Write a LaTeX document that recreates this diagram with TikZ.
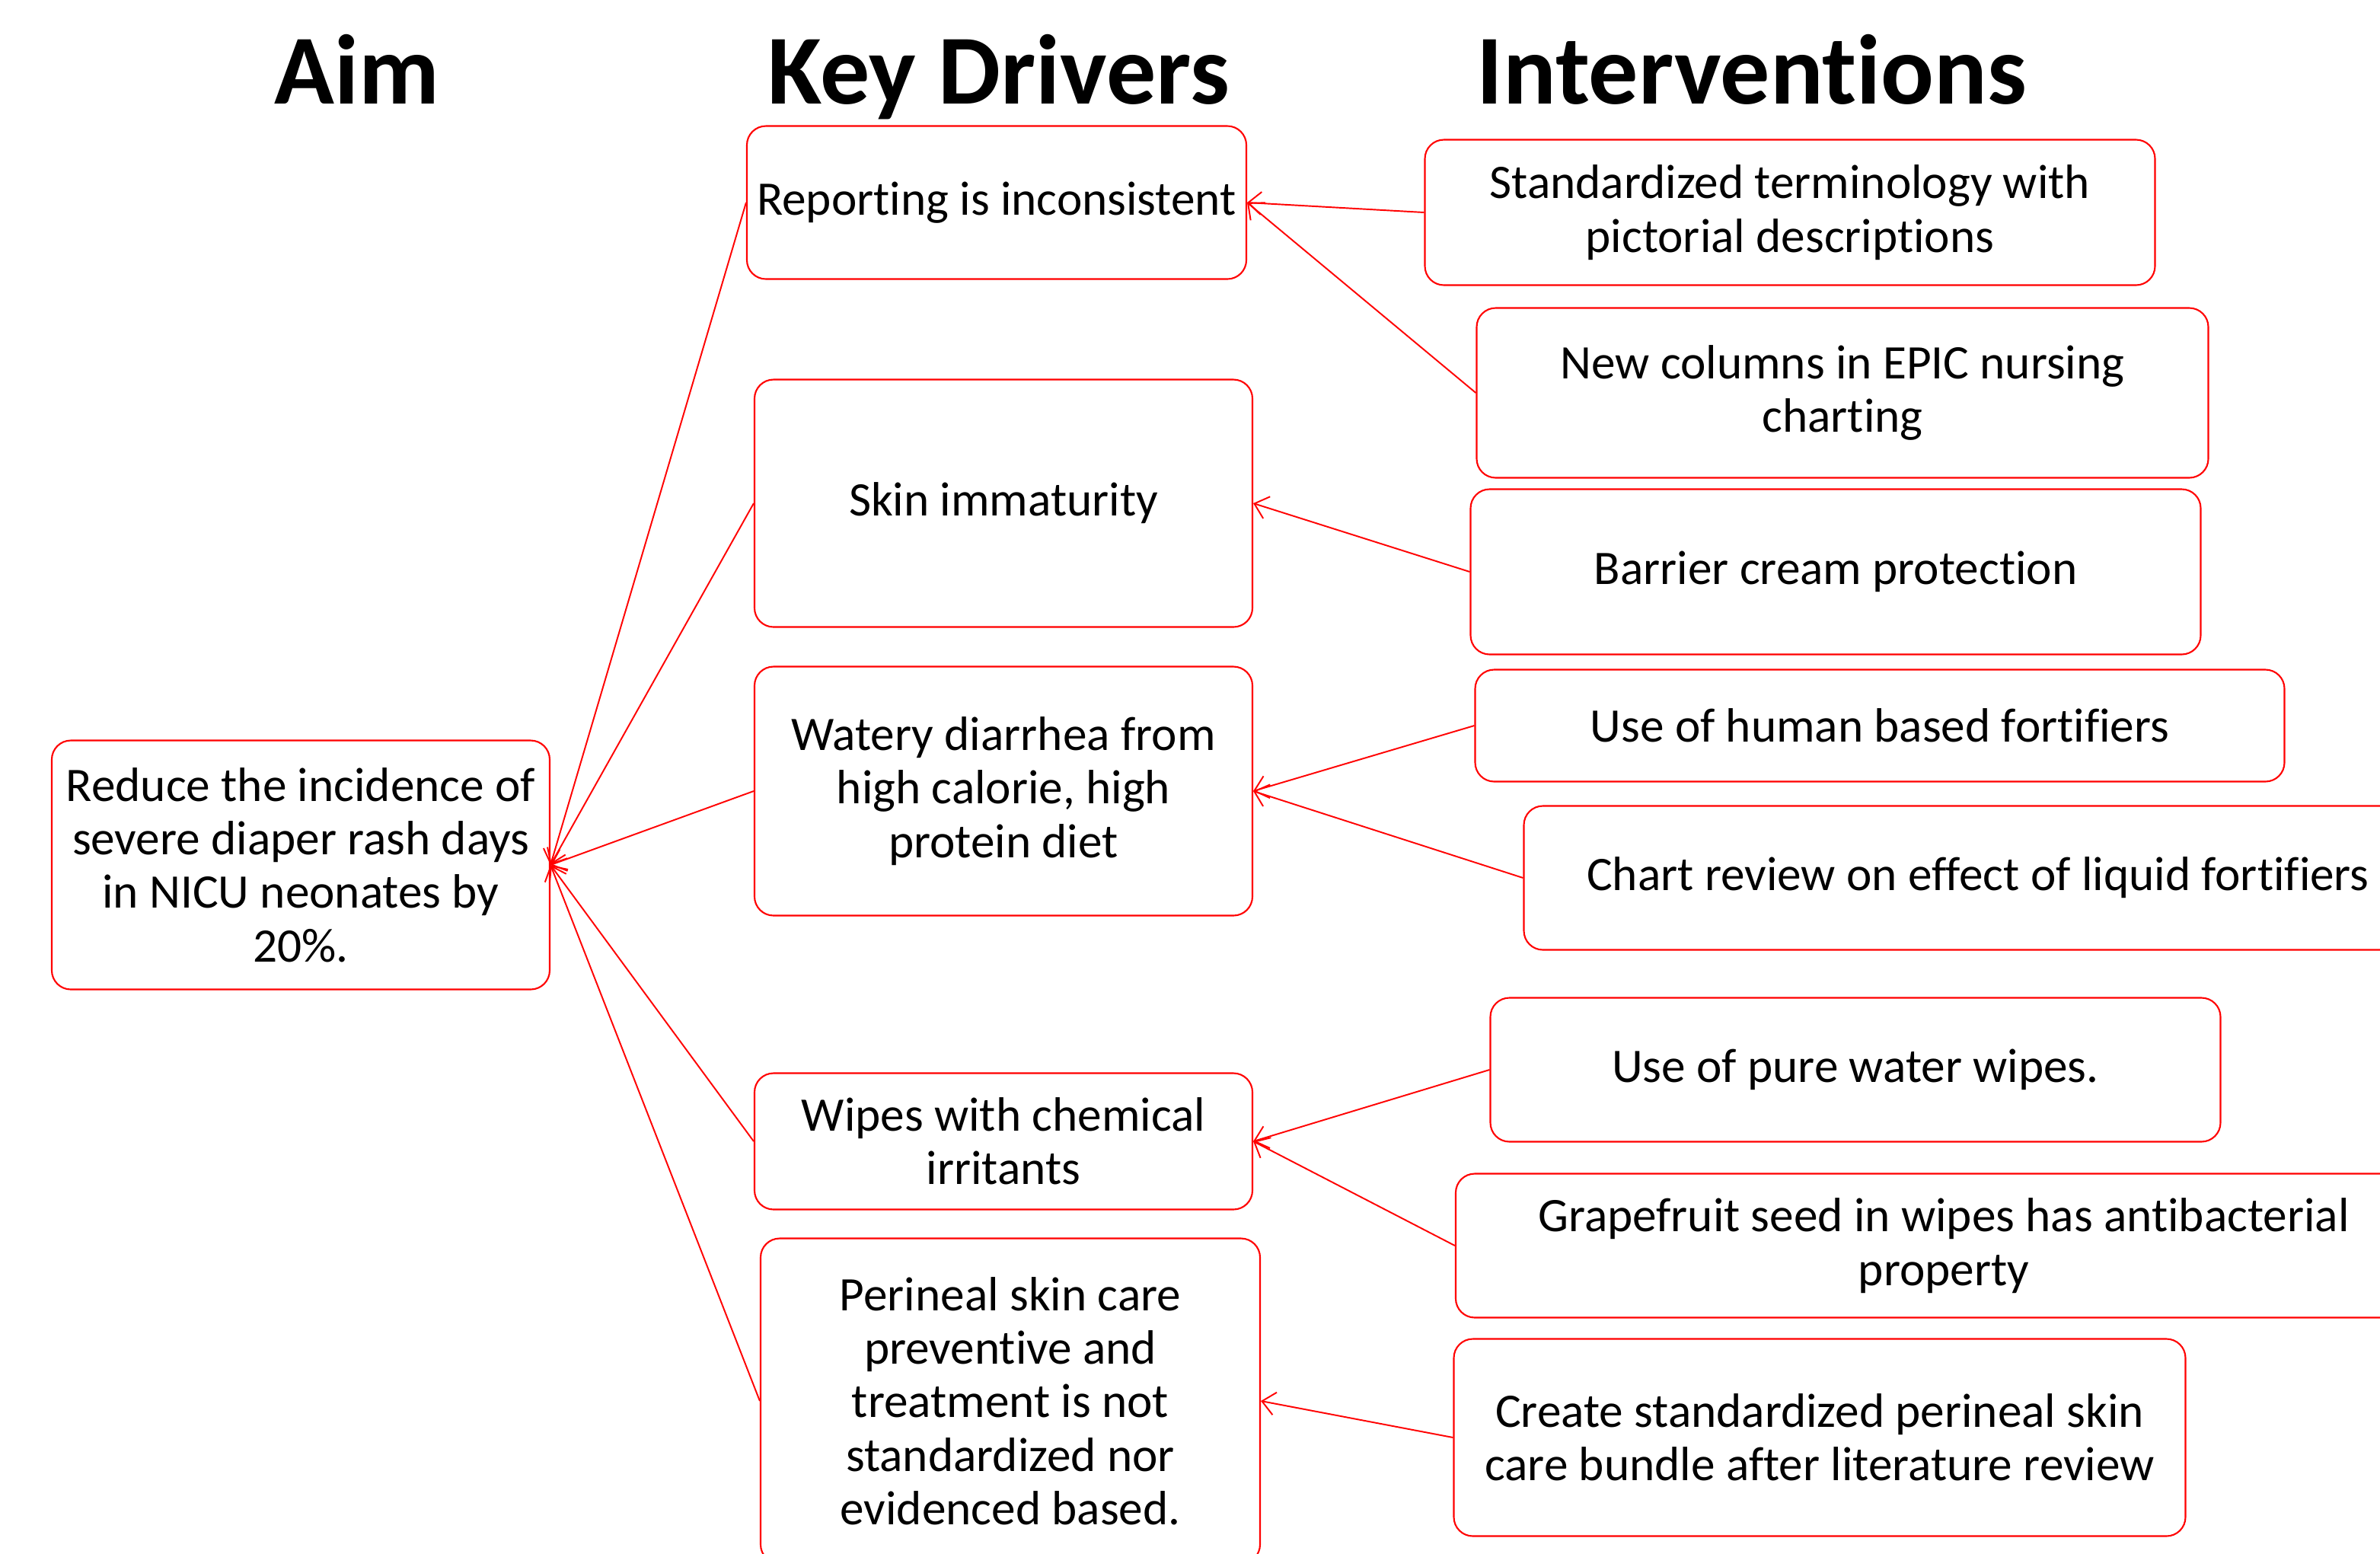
\documentclass[tikz,border=0pt]{standalone}
\usepackage{fontspec}
\setmainfont[RawFeature={-liga;-clig;-dlig;-hlig;-calt}]{Carlito}
\usepackage{xcolor}
\usetikzlibrary{arrows.meta}

\begin{document}
\begin{tikzpicture}[
    box/.style={draw=red, line width=0.6pt, rounded corners=0.25cm, align=center,
        inner sep=0pt, font=\fontsize{18}{20}\selectfont},
    head/.style={anchor=base, font=\fontsize{37}{40}\selectfont\bfseries},
    link/.style={draw=red, line width=0.55pt, -{Straight Barb[length=1.7mm, width=3mm]}}
]
        \useasboundingbox (0,0) rectangle (31.26,-20.40);

        % Column headings
        \node[head] (haim) at (4.69, -1.36) {Aim};
        \node[head] (hdrv) at (13.12, -1.36) {Key Drivers};
        \node[head] (hint) at (23.01, -1.36) {Interventions};

        % Aim
        \node[box, minimum width=6.54cm, minimum height=3.27cm] (aim) at (3.95, -11.36)
            {Reduce the incidence of\\severe diaper rash days\\in NICU neonates by\\20\%.};

        % Key drivers
        \node[box, minimum width=6.56cm, minimum height=2.01cm] (report) at (13.09, -2.66)
            {Reporting is inconsistent};
        \node[box, minimum width=6.54cm, minimum height=3.25cm] (skin) at (13.18, -6.61)
            {Skin immaturity};
        \node[box, minimum width=6.54cm, minimum height=3.27cm] (diet) at (13.18, -10.39)
            {Watery diarrhea from\\high calorie, high\\protein diet};
        \node[box, minimum width=6.54cm, minimum height=1.79cm] (wipes) at (13.18, -14.99)
            {Wipes with chemical\\irritants};
        \node[box, minimum width=6.56cm, minimum height=4.27cm] (care) at (13.27, -18.40)
            {Perineal skin care\\preventive and\\treatment is not\\standardized nor\\evidenced based.};

        % Interventions
        \node[box, minimum width=9.59cm, minimum height=1.91cm] (terms) at (23.51, -2.79)
            {Standardized terminology with\\pictorial descriptions};
        \node[box, minimum width=9.61cm, minimum height=2.23cm] (epic) at (24.20, -5.16)
            {New columns in EPIC nursing\\charting};
        \node[box, minimum width=9.59cm, minimum height=2.17cm] (cream) at (24.11, -7.51)
            {Barrier cream protection};
        \node[box, minimum width=10.63cm, minimum height=1.47cm] (human) at (24.69, -9.53)
            {Use of human based fortifiers};
        \node[box, minimum width=11.93cm, minimum height=1.89cm] (chart) at (25.98, -11.53)
            {Chart review on effect of liquid fortifiers};
        \node[box, minimum width=9.59cm, minimum height=1.89cm] (water) at (24.37, -14.05)
            {Use of pure water wipes.};
        \node[box, minimum width=12.82cm, minimum height=1.89cm] (seed) at (25.53, -16.36)
            {Grapefruit seed in wipes has antibacterial\\property};
        \node[box, minimum width=9.61cm, minimum height=2.59cm] (bundle) at (23.90, -18.88)
            {Create standardized perineal skin\\care bundle after literature review};

        % Drivers to aim
        \foreach \d in {report, skin, diet, wipes, care}
            \draw[link] (\d.west) -- (aim.east);

        % Interventions to drivers
        \draw[link] (terms.west) -- (report.east);
        \draw[link] (epic.west) -- (report.east);
        \draw[link] (cream.west) -- (skin.east);
        \draw[link] (human.west) -- (diet.east);
        \draw[link] (chart.west) -- (diet.east);
        \draw[link] (water.west) -- (wipes.east);
        \draw[link] (seed.west) -- (wipes.east);
        \draw[link] (bundle.west) -- (care.east);
    \end{tikzpicture}
\end{document}
